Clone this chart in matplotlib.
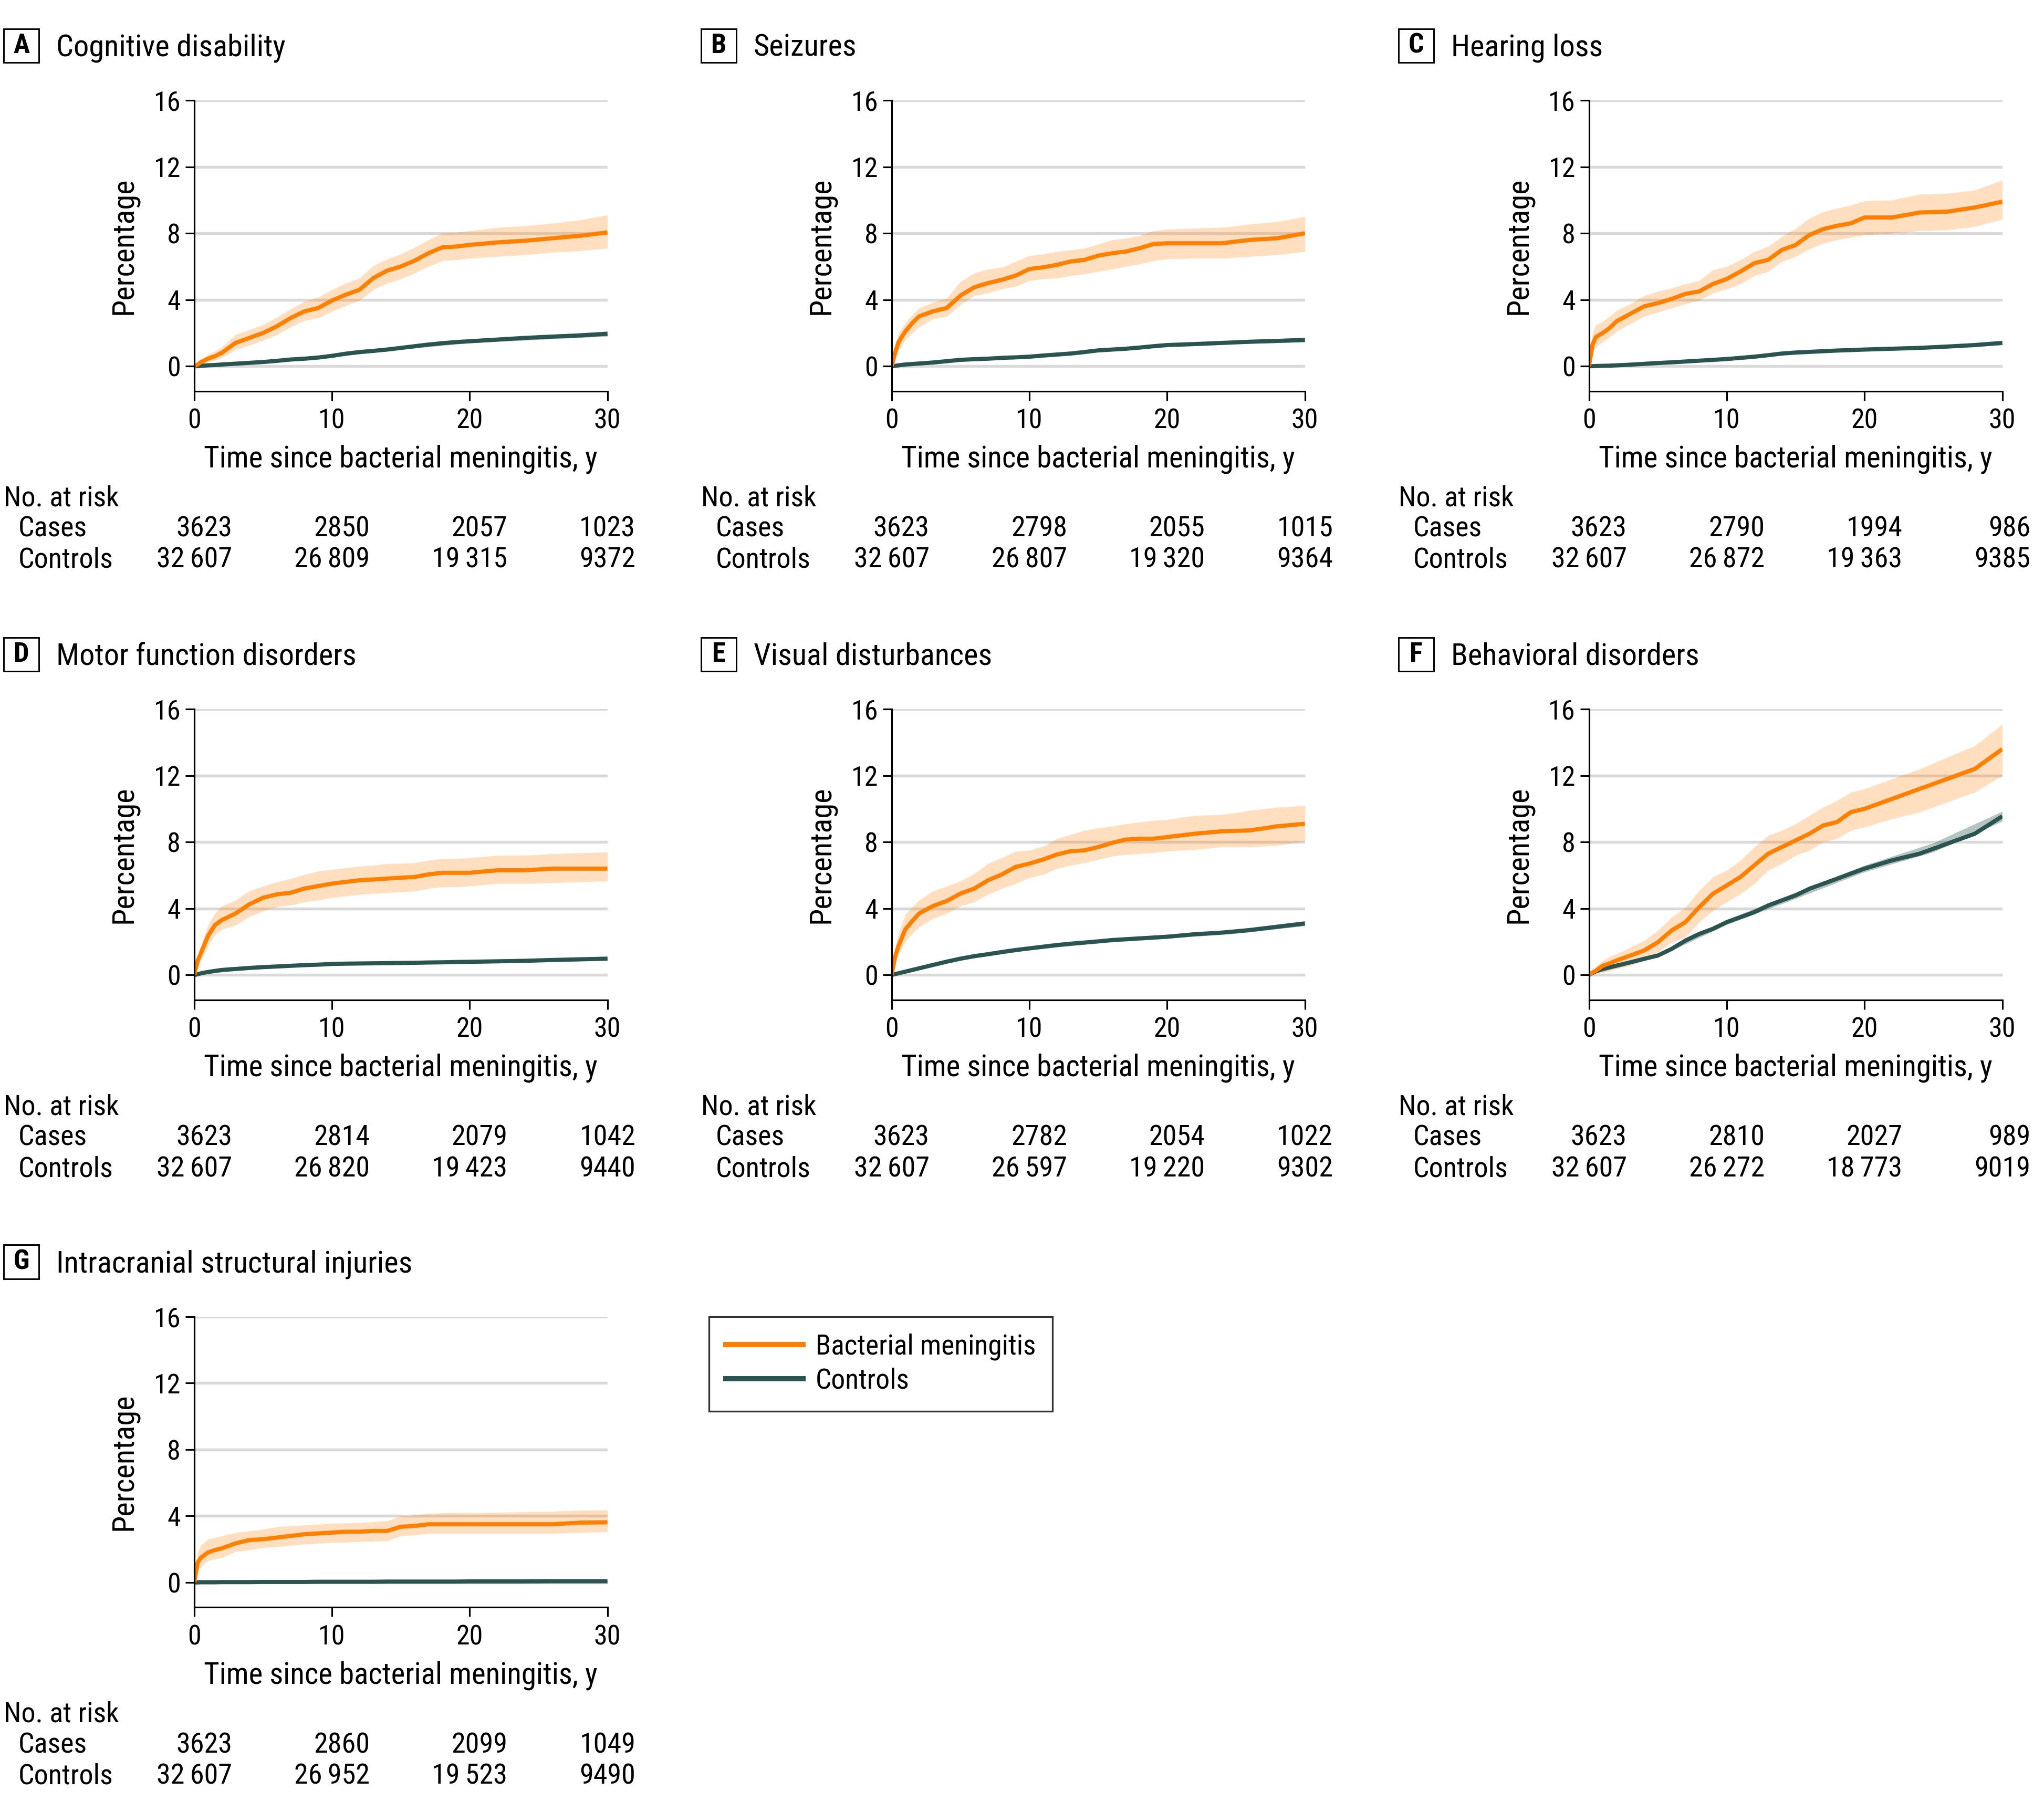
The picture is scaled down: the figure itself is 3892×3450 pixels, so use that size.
import numpy as np
import matplotlib
matplotlib.use('Agg')
import matplotlib.pyplot as plt
from matplotlib import font_manager as fm
from matplotlib.patches import Rectangle
from matplotlib.lines import Line2D


# the original uses a condensed sans; take the first condensed face we can find
def pick_condensed():
    faces = fm.fontManager.ttflist
    names = {f.name for f in faces}
    for cand in ['Liberation Sans Narrow', 'Roboto Condensed', 'DejaVu Sans Condensed',
                 'Noto Sans Condensed', 'Open Sans Condensed', 'Arial Narrow']:
        if cand in names:
            return cand, 'normal'
    found = []
    for f in faces:
        st = f.stretch
        if isinstance(st, str):
            st = fm.stretch_dict.get(st, 500)
        w = f.weight
        if isinstance(w, str):
            w = fm.weight_dict.get(w, 400)
        if st < 500 and f.style == 'normal' and w == 400 and 'Mono' not in f.name:
            found.append((f.name, f.stretch))
    for pref in ['Noto Sans', 'Roboto', 'Open Sans', 'DejaVu Sans', 'Lato', 'Inter']:
        for name, st in found:
            if name == pref:
                return name, st
    if found:
        return found[0]
    return 'DejaVu Sans', 'normal'


font_name, font_stretch = pick_condensed()
plt.rcParams['font.family'] = [font_name, 'DejaVu Sans']
plt.rcParams['font.stretch'] = font_stretch

# ---------- data ----------
t = [0, 0.25, 0.5, 1, 1.5, 2, 3, 4, 5, 6, 7, 8, 9, 10, 11, 12, 13, 14, 15, 16,
     17, 18, 19, 20, 22, 24, 26, 28, 30]
t_ctrl_ci = [0, 5, 10, 15, 20, 25, 30]
risk_times = [0, 10, 20, 30]

# A Cognitive disability
a_case = [0, 0.1, 0.25, 0.45, 0.6, 0.8, 1.4, 1.7, 2.0, 2.4, 2.9, 3.3, 3.5, 3.95, 4.3, 4.6, 5.3, 5.75, 6.0, 6.35,
          6.8, 7.15, 7.2, 7.3, 7.45, 7.55, 7.7, 7.85, 8.05]
a_case_lo = [0, 0.02, 0.1, 0.25, 0.35, 0.5, 1.0, 1.25, 1.55, 1.9, 2.35, 2.75, 2.9, 3.3, 3.65, 3.95, 4.6, 5.0, 5.25, 5.6,
             6.0, 6.35, 6.4, 6.5, 6.6, 6.7, 6.85, 6.95, 7.1]
a_case_hi = [0, 0.2, 0.4, 0.7, 0.9, 1.15, 1.9, 2.2, 2.5, 2.95, 3.45, 3.9, 4.15, 4.6, 5.0, 5.3, 6.05, 6.45, 6.75, 7.15,
             7.6, 8.0, 8.05, 8.15, 8.35, 8.45, 8.6, 8.8, 9.1]
a_ctrl = [0, 0.0, 0.02, 0.05, 0.07, 0.1, 0.15, 0.2, 0.25, 0.32, 0.4, 0.45, 0.52, 0.62, 0.75, 0.85, 0.92, 1.0, 1.1, 1.2,
          1.3, 1.38, 1.45, 1.5, 1.6, 1.7, 1.78, 1.85, 1.95]
a_ctrl_lo = [0, 0.2, 0.55, 1.0, 1.4, 1.6, 1.8]
a_ctrl_hi = [0, 0.3, 0.7, 1.2, 1.6, 1.85, 2.1]
a_risk_cases = [3623, 2850, 2057, 1023]
a_risk_ctrls = [32607, 26809, 19315, 9372]

# B Seizures
b_case = [0, 0.8, 1.45, 2.1, 2.6, 3.0, 3.3, 3.5, 4.25, 4.75, 5.0, 5.2, 5.45, 5.85, 5.95, 6.1, 6.3, 6.4, 6.65, 6.8,
          6.9, 7.1, 7.35, 7.4, 7.4, 7.4, 7.6, 7.7, 8.0]
b_case_lo = [0, 0.4, 0.9, 1.6, 2.0, 2.35, 2.85, 3.0, 3.7, 4.25, 4.4, 4.65, 4.8, 5.15, 5.25, 5.3, 5.45, 5.55, 5.7, 5.85,
             6.0, 6.15, 6.35, 6.45, 6.5, 6.5, 6.6, 6.7, 6.9]
b_case_hi = [0, 1.2, 2.0, 2.6, 3.1, 3.5, 3.85, 4.1, 5.1, 5.6, 5.85, 5.95, 6.3, 6.65, 6.75, 6.9, 7.0, 7.1, 7.35, 7.6,
             7.7, 7.85, 8.15, 8.25, 8.3, 8.35, 8.55, 8.7, 9.0]
b_ctrl = [0, 0.02, 0.05, 0.1, 0.13, 0.16, 0.22, 0.3, 0.38, 0.42, 0.45, 0.5, 0.53, 0.57, 0.64, 0.7, 0.76, 0.85, 0.95, 1.0,
          1.05, 1.12, 1.2, 1.27, 1.33, 1.4, 1.47, 1.52, 1.58]
b_ctrl_lo = [0, 0.33, 0.5, 0.88, 1.18, 1.35, 1.45]
b_ctrl_hi = [0, 0.43, 0.64, 1.02, 1.36, 1.55, 1.72]
b_risk_cases = [3623, 2798, 2055, 1015]
b_risk_ctrls = [32607, 26807, 19320, 9364]

# C Hearing loss
c_case = [0, 1.3, 1.75, 2.0, 2.3, 2.7, 3.15, 3.6, 3.8, 4.05, 4.35, 4.5, 4.95, 5.25, 5.7, 6.2, 6.4, 7.0, 7.3, 7.9,
          8.25, 8.45, 8.6, 8.95, 8.95, 9.25, 9.3, 9.55, 9.9]
c_case_lo = [0, 0.8, 1.15, 1.45, 1.75, 2.1, 2.55, 3.0, 3.25, 3.5, 3.75, 3.95, 4.4, 4.65, 4.95, 5.45, 5.7, 6.3, 6.6, 7.05,
             7.4, 7.6, 7.75, 7.9, 8.0, 8.15, 8.2, 8.4, 8.85]
c_case_hi = [0, 2.0, 2.5, 2.7, 3.0, 3.35, 3.75, 4.25, 4.5, 4.7, 4.95, 5.15, 5.8, 6.0, 6.4, 6.9, 7.2, 7.8, 8.3, 8.9,
             9.3, 9.5, 9.7, 9.95, 10.0, 10.35, 10.4, 10.6, 11.2]
c_ctrl = [0, 0.0, 0.01, 0.02, 0.03, 0.05, 0.09, 0.14, 0.19, 0.23, 0.28, 0.33, 0.38, 0.43, 0.5, 0.57, 0.66, 0.76, 0.82,
          0.86, 0.9, 0.94, 0.97, 1.0, 1.05, 1.1, 1.18, 1.27, 1.4]
c_ctrl_lo = [0, 0.15, 0.38, 0.74, 0.92, 1.05, 1.28]
c_ctrl_hi = [0, 0.23, 0.5, 0.9, 1.08, 1.22, 1.52]
c_risk_cases = [3623, 2790, 1994, 986]
c_risk_ctrls = [32607, 26872, 19363, 9385]

# D Motor function disorders
d_case = [0, 0.85, 1.35, 2.35, 3.0, 3.3, 3.7, 4.25, 4.65, 4.85, 4.95, 5.2, 5.35, 5.5, 5.6, 5.7, 5.75, 5.8, 5.85, 5.9,
          6.05, 6.15, 6.15, 6.15, 6.3, 6.3, 6.4, 6.4, 6.4]
d_case_lo = [0, 0.5, 0.9, 1.75, 2.4, 2.75, 3.0, 3.5, 3.85, 4.1, 4.2, 4.4, 4.5, 4.65, 4.75, 4.85, 4.9, 4.95, 5.0, 5.05,
             5.2, 5.3, 5.3, 5.35, 5.5, 5.5, 5.55, 5.6, 5.65]
d_case_hi = [0, 1.2, 1.8, 3.0, 3.7, 4.15, 4.5, 5.05, 5.35, 5.6, 5.8, 6.05, 6.25, 6.35, 6.45, 6.55, 6.6, 6.7, 6.72, 6.75,
             6.9, 7.0, 7.0, 7.05, 7.2, 7.2, 7.3, 7.35, 7.4]
d_ctrl = [0, 0.04, 0.1, 0.18, 0.24, 0.3, 0.36, 0.42, 0.47, 0.51, 0.55, 0.59, 0.62, 0.66, 0.68, 0.69, 0.7, 0.71, 0.72,
          0.73, 0.75, 0.76, 0.78, 0.79, 0.82, 0.85, 0.9, 0.94, 0.98]
d_ctrl_lo = [0, 0.42, 0.6, 0.66, 0.72, 0.78, 0.88]
d_ctrl_hi = [0, 0.52, 0.72, 0.78, 0.86, 0.96, 1.08]
d_risk_cases = [3623, 2814, 2079, 1042]
d_risk_ctrls = [32607, 26820, 19423, 9440]

# E Visual disturbances
e_case = [0, 1.1, 1.75, 2.75, 3.25, 3.7, 4.15, 4.45, 4.9, 5.2, 5.7, 6.05, 6.5, 6.7, 6.95, 7.25, 7.45, 7.5, 7.7, 7.95,
          8.15, 8.2, 8.2, 8.3, 8.5, 8.65, 8.7, 8.95, 9.1]
e_case_lo = [0, 0.7, 1.2, 2.0, 2.5, 2.9, 3.4, 3.7, 4.15, 4.4, 4.85, 5.2, 5.5, 5.85, 6.05, 6.4, 6.6, 6.75, 6.95, 7.15,
             7.25, 7.3, 7.35, 7.45, 7.55, 7.7, 7.7, 7.8, 8.05]
e_case_hi = [0, 1.6, 2.5, 3.65, 4.1, 4.5, 5.05, 5.35, 5.65, 6.1, 6.7, 7.05, 7.45, 7.5, 7.75, 8.2, 8.45, 8.7, 8.85, 8.95,
             9.1, 9.2, 9.3, 9.35, 9.6, 9.65, 9.9, 10.1, 10.2]
e_ctrl = [0, 0.05, 0.1, 0.2, 0.3, 0.4, 0.6, 0.8, 0.98, 1.13, 1.25, 1.38, 1.5, 1.6, 1.7, 1.8, 1.88, 1.95, 2.02, 2.1,
          2.15, 2.2, 2.25, 2.3, 2.45, 2.55, 2.7, 2.9, 3.1]
e_ctrl_lo = [0, 0.9, 1.5, 1.92, 2.2, 2.5, 2.95]
e_ctrl_hi = [0, 1.06, 1.7, 2.12, 2.4, 2.75, 3.25]
e_risk_cases = [3623, 2782, 2054, 1022]
e_risk_ctrls = [32607, 26597, 19220, 9302]

# F Behavioral disorders
f_case = [0, 0.15, 0.26, 0.56, 0.7, 0.87, 1.17, 1.47, 1.97, 2.68, 3.18, 4.08, 4.89, 5.39, 5.9, 6.6, 7.3, 7.7, 8.1, 8.5,
          9.0, 9.2, 9.8, 10.0, 10.6, 11.2, 11.8, 12.4, 13.6]
f_case_lo = [0, 0.05, 0.1, 0.16, 0.25, 0.36, 0.56, 0.87, 1.37, 1.97, 2.27, 3.18, 3.88, 4.39, 4.89, 5.49, 6.3, 6.7, 7.2,
             7.5, 8.0, 8.2, 8.7, 8.9, 9.4, 9.8, 10.4, 11.0, 12.0]
f_case_hi = [0, 0.3, 0.5, 0.87, 1.1, 1.27, 1.67, 2.07, 2.68, 3.48, 4.08, 5.09, 5.9, 6.3, 6.9, 7.7, 8.4, 8.7, 9.1, 9.6,
             10.1, 10.5, 11.0, 11.2, 11.8, 12.4, 13.1, 13.8, 15.1]
f_ctrl = [0, 0.12, 0.22, 0.36, 0.46, 0.56, 0.76, 0.97, 1.17, 1.57, 2.07, 2.47, 2.78, 3.18, 3.48, 3.78, 4.18, 4.49, 4.79,
          5.19, 5.49, 5.79, 6.1, 6.4, 6.9, 7.3, 7.9, 8.5, 9.55]
f_ctrl_lo = [0, 1.08, 3.03, 4.6, 6.2, 7.4, 9.25]
f_ctrl_hi = [0, 1.26, 3.33, 4.98, 6.6, 7.95, 9.85]
f_risk_cases = [3623, 2810, 2027, 989]
f_risk_ctrls = [32607, 26272, 18773, 9019]

# G Intracranial structural injuries
g_case = [0, 1.2, 1.5, 1.8, 1.95, 2.05, 2.35, 2.55, 2.6, 2.7, 2.8, 2.9, 2.95, 3.0, 3.05, 3.05, 3.1, 3.1, 3.35, 3.4,
          3.5, 3.5, 3.5, 3.5, 3.5, 3.5, 3.5, 3.6, 3.62]
g_case_lo = [0, 0.7, 0.95, 1.3, 1.4, 1.5, 1.85, 1.95, 2.1, 2.15, 2.22, 2.3, 2.35, 2.4, 2.42, 2.45, 2.48, 2.5, 2.8, 2.85,
             2.95, 2.95, 2.95, 2.95, 2.95, 2.95, 2.95, 3.0, 3.05]
g_case_hi = [0, 1.8, 2.25, 2.6, 2.7, 2.8, 3.0, 3.1, 3.2, 3.35, 3.4, 3.45, 3.5, 3.55, 3.58, 3.6, 3.65, 3.7, 4.0, 4.05,
             4.15, 4.18, 4.2, 4.2, 4.22, 4.25, 4.28, 4.35, 4.35]
g_ctrl = [0, 0.0, 0.01, 0.01, 0.01, 0.02, 0.02, 0.02, 0.03, 0.03, 0.03, 0.03, 0.04, 0.04, 0.04, 0.04, 0.04, 0.05, 0.05,
          0.05, 0.05, 0.05, 0.05, 0.06, 0.06, 0.06, 0.07, 0.07, 0.07]
g_ctrl_lo = [0, 0.01, 0.02, 0.03, 0.04, 0.04, 0.05]
g_ctrl_hi = [0, 0.05, 0.06, 0.07, 0.08, 0.09, 0.1]
g_risk_cases = [3623, 2860, 2099, 1049]
g_risk_ctrls = [32607, 26952, 19523, 9490]

panels = [
    ('A', 'Cognitive disability', a_case, a_case_lo, a_case_hi, a_ctrl, a_ctrl_lo, a_ctrl_hi, a_risk_cases, a_risk_ctrls),
    ('B', 'Seizures', b_case, b_case_lo, b_case_hi, b_ctrl, b_ctrl_lo, b_ctrl_hi, b_risk_cases, b_risk_ctrls),
    ('C', 'Hearing loss', c_case, c_case_lo, c_case_hi, c_ctrl, c_ctrl_lo, c_ctrl_hi, c_risk_cases, c_risk_ctrls),
    ('D', 'Motor function disorders', d_case, d_case_lo, d_case_hi, d_ctrl, d_ctrl_lo, d_ctrl_hi, d_risk_cases, d_risk_ctrls),
    ('E', 'Visual disturbances', e_case, e_case_lo, e_case_hi, e_ctrl, e_ctrl_lo, e_ctrl_hi, e_risk_cases, e_risk_ctrls),
    ('F', 'Behavioral disorders', f_case, f_case_lo, f_case_hi, f_ctrl, f_ctrl_lo, f_ctrl_hi, f_risk_cases, f_risk_ctrls),
    ('G', 'Intracranial structural injuries', g_case, g_case_lo, g_case_hi, g_ctrl, g_ctrl_lo, g_ctrl_hi, g_risk_cases, g_risk_ctrls),
]

ORANGE = '#FF8000'
TEAL = '#2B5450'
GRID = '#d9d9d9'

# ---------- layout (in units of a 1568 x 1390 canvas) ----------
W, H = 1568.0, 1390.0


def fx(x):
    return x / W


def fy(y):
    return 1 - y / H


def fmt(n):
    return f'{n:,}'.replace(',', '\u2009') if n >= 10000 else str(n)


col_x = [149, 684, 1219]
row_top = [77, 544, 1010]
AX_W, AX_H = 317, 223

fig = plt.figure(figsize=(3892 / 300, 3450 / 300), dpi=300)
renderer = fig.canvas.get_renderer()

for i, (letter, title, case, lo, hi, ctrl, clo, chi, rcases, rctrls) in enumerate(panels):
    r, c = divmod(i, 3)
    x0, y0 = col_x[c], row_top[r]
    ax = fig.add_axes([fx(x0), fy(y0 + AX_H), AX_W / W, AX_H / H])

    ax.fill_between(t_ctrl_ci, clo, chi, color=TEAL, alpha=0.35, lw=0)
    ax.fill_between(t, lo, hi, color=ORANGE, alpha=0.25, lw=0)
    ax.plot(t, ctrl, color=TEAL, lw=1.9, solid_capstyle='butt')
    ax.plot(t, case, color=ORANGE, lw=1.9, solid_capstyle='butt')

    ax.set_xlim(0, 30)
    ax.set_ylim(-1.5, 16)
    ax.set_xticks(risk_times)
    ax.set_yticks([0, 4, 8, 12, 16])
    ax.yaxis.grid(True, color=GRID, lw=1.3)
    ax.set_axisbelow(True)
    for s in ('top', 'right'):
        ax.spines[s].set_visible(False)
    for s in ('left', 'bottom'):
        ax.spines[s].set_linewidth(0.75)
    ax.tick_params(axis='both', length=4.2, width=0.75, labelsize=12.5)
    ax.tick_params(axis='x', pad=3.5)
    ax.tick_params(axis='y', pad=2.0)
    ax.set_ylabel('Percentage', fontsize=14)
    ax.yaxis.set_label_coords(-0.135, 0.5)

    # panel letter box + title
    fig.add_artist(Rectangle((fx(x0 - 146), fy(y0 - 29)), 27 / W, 26 / H,
                             transform=fig.transFigure, fill=False, lw=0.7, ec='black'))
    fig.text(fx(x0 - 132.5), fy(y0 - 42), letter, ha='center', va='center',
             fontsize=12.5, fontweight='bold')
    fig.text(fx(x0 - 106), fy(y0 - 34), title, ha='left', va='baseline', fontsize=14)

    # x label
    fig.text(fx(x0 + AX_W / 2), fy(y0 + 281.5), 'Time since bacterial meningitis, y',
             ha='center', va='baseline', fontsize=13.7)

    # number at risk table
    fig.text(fx(x0 - 146), fy(y0 + 311), 'No. at risk', ha='left', va='baseline', fontsize=13)
    fig.text(fx(x0 - 135), fy(y0 + 334.5), 'Cases', ha='left', va='baseline', fontsize=13)
    fig.text(fx(x0 - 135), fy(y0 + 358.5), 'Controls', ha='left', va='baseline', fontsize=13)
    for k, tt in enumerate(risk_times):
        t1 = fig.text(0, fy(y0 + 334.5), fmt(rcases[k]), ha='right', va='baseline', fontsize=13)
        t2 = fig.text(0, fy(y0 + 358.5), fmt(rctrls[k]), ha='right', va='baseline', fontsize=13)
        w = max(tx.get_window_extent(renderer).width for tx in (t1, t2))
        xpix = ax.transData.transform((tt, 0))[0]
        xr = (xpix + w / 2) / fig.bbox.width
        t1.set_x(xr)
        t2.set_x(xr)

# legend
handles = [Line2D([], [], color=ORANGE, lw=2.4), Line2D([], [], color=TEAL, lw=2.4)]
leg = fig.legend(handles, ['Bacterial meningitis', 'Controls'], loc='upper left',
                 bbox_to_anchor=(fx(544), fy(1010)), borderaxespad=0, frameon=True,
                 fancybox=False, edgecolor='black', handlelength=2.75, handletextpad=0.45,
                 borderpad=0.6, labelspacing=0.25, fontsize=12.8)
leg.get_frame().set_linewidth(0.8)

fig.savefig('out.png', dpi=300, facecolor='white')
